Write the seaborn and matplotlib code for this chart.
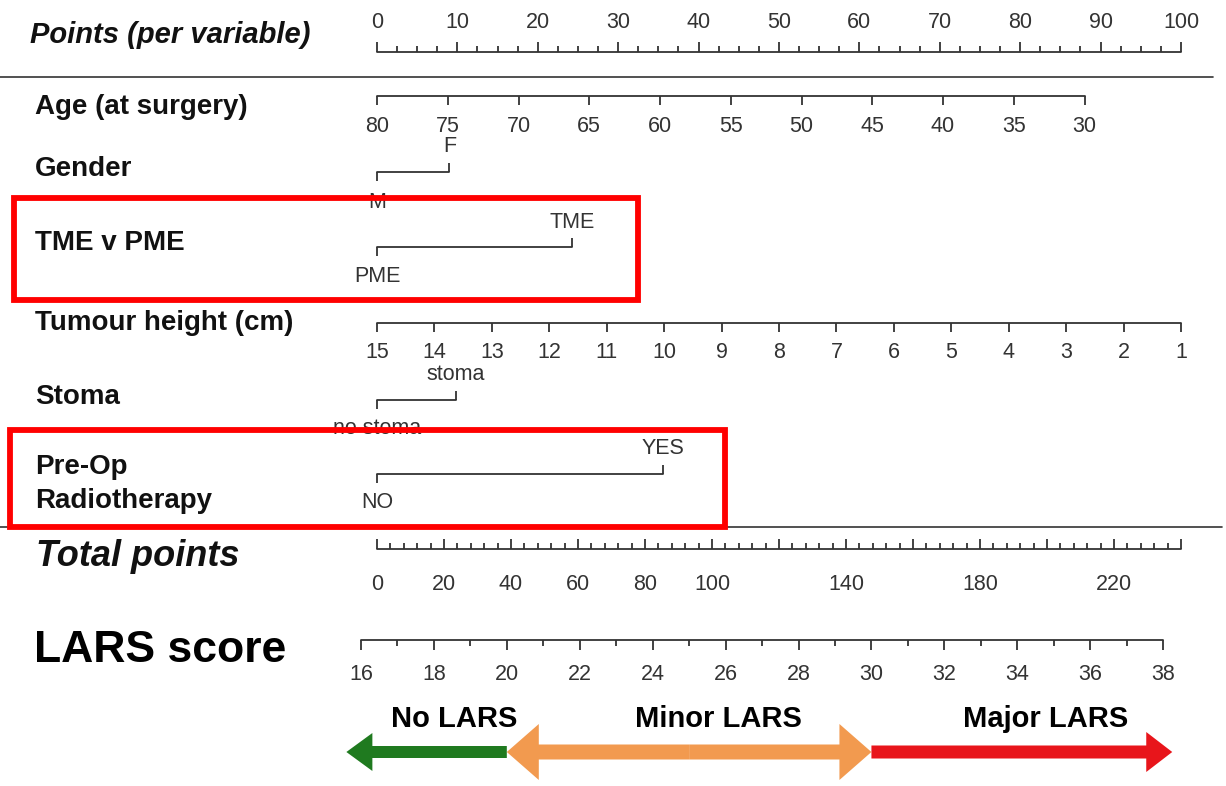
import numpy as np
import pandas as pd
import matplotlib
matplotlib.use("Agg")
import matplotlib.pyplot as plt
from matplotlib.patches import Rectangle, FancyArrow
import seaborn as sns

# ---------------- data ----------------
points_major = list(range(0, 101, 10))          # Points (per variable) scale
points_minor_step = 2.5

age_ticks = [80, 75, 70, 65, 60, 55, 50, 45, 40, 35, 30]
age_points_at_30 = 88.0                          # points given to age 30 (age 80 -> 0)

gender_levels = ["M", "F"]
gender_points = [0.0, 9.0]

tme_levels = ["PME", "TME"]
tme_points = [0.0, 24.3]

height_ticks = [15, 14, 13, 12, 11, 10, 9, 8, 7, 6, 5, 4, 3, 2, 1]
height_points_at_1 = 100.0                       # tumour height 15 cm -> 0

stoma_levels = ["no stoma", "stoma"]
stoma_points = [0.0, 9.8]

rt_levels = ["NO", "YES"]
rt_points = [0.0, 35.6]

total_major = list(range(0, 241, 20))
total_labels = [0, 20, 40, 60, 80, 100, 140, 180, 220]
total_minor_step = 4
total_max = 240                                  # total 240 lines up with points 100

lars_major = list(range(16, 39, 2))
lars_minor = list(range(17, 38, 2))
lars_at_points0 = 16.44                          # LARS value at total/points origin
lars_per_point = 0.2205                          # LARS units per point-coordinate
lars_cutoffs = [20, 30]
lars_classes = ["No LARS", "Minor LARS", "Major LARS"]
lars_colors = ["#1f7a1f", "#f29a4f", "#e8151b"]

variable_names = ["Age (at surgery)", "Gender", "TME v PME", "Tumour height (cm)",
                  "Stoma", "Pre-Op\nRadiotherapy"]

# ---------------- figure ----------------
sns.set_theme(style="white")
plt.rcParams["font.family"] = ["Liberation Sans", "DejaVu Sans"]

W, H = 1226, 786
fig = plt.figure(figsize=(W / 100, H / 100), dpi=100)
ax = fig.add_axes([0, 0, 1, 1])

PX0, PXS = 377.0, 8.04         # pixel of points 0, pixels per point


def xp(px):
    return (px - PX0) / PXS


ax.set_xlim(xp(0), xp(W))
ax.set_ylim(H, 0)
ax.axis("off")

LC = "#333333"
LW = 1.3
TFS = 15.5
TC = "#333333"


def hline(x0, x1, y, color=LC, lw=LW):
    df = pd.DataFrame({"x": [x0, x1], "y": [y, y]})
    sns.lineplot(data=df, x="x", y="y", ax=ax, color=color, lw=lw,
                 estimator=None, sort=False, legend=False)


def ticks(xs, y, length, lw=LW):
    ax.vlines(xs, y, y + length, color=LC, lw=lw)


def tick_labels(xs, labels, y):
    for x, lab in zip(xs, labels):
        ax.text(x, y, str(lab), ha="center", va="center", fontsize=TFS, color=TC)


# ---- Points header ----
y = 52
hline(0, 100, y)
ticks(points_major, y, -10)
minor = [v for v in np.arange(0, 100.001, points_minor_step) if v % 10 != 0]
ticks(minor, y, -6)
tick_labels(points_major, points_major, 22)
ax.text(xp(30), 35, "Points (per variable)", ha="left", va="center",
        fontsize=21, fontweight="bold", fontstyle="italic", color="#111111")
hline(xp(0), xp(1213), 77, lw=1.2)

# ---- Age ----
y = 96
age_x = [(80 - a) / 50 * age_points_at_30 for a in age_ticks]
hline(age_x[0], age_x[-1], y)
ticks(age_x, y, 9)
tick_labels(age_x, age_ticks, 126)


# ---- categorical variables ----
def categorical(levels, pts, y, ytop, ybot):
    hline(pts[0], pts[1], y)
    ax.vlines(pts[0], y, y + 9, color=LC, lw=LW)
    ax.vlines(pts[1], y, y - 9, color=LC, lw=LW)
    ax.text(pts[0], ybot, levels[0], ha="center", va="center", fontsize=TFS, color=TC)
    ax.text(pts[1], ytop, levels[1], ha="center", va="center", fontsize=TFS, color=TC)


categorical(gender_levels, gender_points, 172, 147, 202)
categorical(tme_levels, tme_points, 247, 223, 276)

# ---- Tumour height ----
y = 323
h_x = [(15 - h) / 14 * height_points_at_1 for h in height_ticks]
hline(h_x[0], h_x[-1], y)
ticks(h_x, y, 9)
tick_labels(h_x, height_ticks, 352)

categorical(stoma_levels, stoma_points, 400, 375, 429)
categorical(rt_levels, rt_points, 474, 449, 502)

# variable names
name_y = [107, 169, 243, 323, 397, 484]
for name, yy in zip(variable_names, name_y):
    ax.text(xp(35), yy, name, ha="left", va="center", fontsize=20,
            fontweight="bold", color="#111111", linespacing=1.4)

hline(xp(0), xp(1222), 527, lw=1.2)

# ---- Total points ----
y = 549
tot_x = [t * 100 / total_max for t in total_major]
hline(0, 100, y)
ticks(tot_x, y, -10)
tmin = [t * 100 / total_max for t in range(0, total_max + 1, total_minor_step) if t % 20 != 0]
ticks(tmin, y, -6)
tick_labels([t * 100 / total_max for t in total_labels], total_labels, 585)
ax.text(xp(36), 557, "Total points", ha="left", va="center", fontsize=26,
        fontweight="bold", fontstyle="italic", color="#111111")

# ---- LARS score ----
y = 640


def lars_x(v):
    return (v - lars_at_points0) / lars_per_point


lx = [lars_x(v) for v in lars_major]
hline(lx[0], lx[-1], y)
ticks(lx, y, 10)
ticks([lars_x(v) for v in lars_minor], y, 6)
tick_labels(lx, lars_major, 675)
ax.text(xp(34), 651, "LARS score", ha="left", va="center", fontsize=32,
        fontweight="bold", color="#000000")

# ---- LARS class arrows ----
ya = 752
c20, c30 = lars_x(lars_cutoffs[0]), lars_x(lars_cutoffs[1])
green_tip = lars_x(15.6)
red_tip = lars_x(38.25)
hl = 26 / PXS
ax.add_patch(FancyArrow(c20, ya, green_tip - c20, 0, width=12, head_width=38,
                        head_length=hl, length_includes_head=True,
                        color=lars_colors[0], lw=0))
mid = (c20 + c30) / 2
for end in (c20, c30):
    ax.add_patch(FancyArrow(mid, ya, end - mid, 0, width=15, head_width=56,
                            head_length=32 / PXS, length_includes_head=True,
                            color=lars_colors[1], lw=0))
ax.add_patch(FancyArrow(c30, ya, red_tip - c30, 0, width=13, head_width=40,
                        head_length=hl, length_includes_head=True,
                        color=lars_colors[2], lw=0))
label_x = [xp(454), xp(718), xp(1046)]
for lab, xx in zip(lars_classes, label_x):
    ax.text(xx, 719, lab, ha="center", va="center", fontsize=21,
            fontweight="bold", color="#000000")

# ---- red highlight boxes ----
for (x0, y0, x1, y1) in [(14, 198, 638, 300), (10, 430, 725, 527)]:
    ax.add_patch(Rectangle((xp(x0), y0), xp(x1) - xp(x0), y1 - y0, fill=False,
                           edgecolor="#ff0000", lw=4.2, zorder=5))

fig.savefig("out.png", dpi=100)
